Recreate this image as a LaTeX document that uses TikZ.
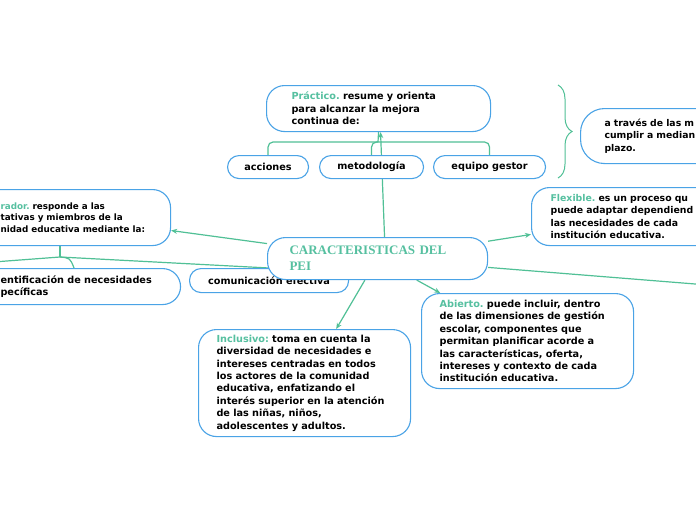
\documentclass[tikz,border=0pt]{standalone}
\usepackage{fontspec}
\setmainfont{DejaVu Sans}
\newfontfamily\titlefont{Liberation Serif}
\usetikzlibrary{arrows.meta}
\usetikzlibrary{backgrounds}
\usetikzlibrary{decorations.pathreplacing}

\definecolor{boxblue}{RGB}{74,163,230}
\definecolor{linkteal}{RGB}{80,192,150}
\definecolor{keyteal}{RGB}{86,192,160}
\newcommand{\kw}[1]{\textcolor{keyteal}{#1}}

\begin{document}
\frenchspacing
\begin{tikzpicture}[x=1pt,y=-1pt]
\useasboundingbox (0,0) rectangle (696,520);
\begin{scope}[every node/.style={draw=boxblue,line width=1.1pt,fill=white,rounded corners=18pt,
                                 anchor=north west,align=left,inner ysep=0pt,
                                 font=\fontsize{9.7}{12.4}\selectfont\bfseries},
              sub_box/.style={rounded corners=11.5pt,align=center,inner xsep=0pt,minimum height=23pt}]
    \node (com) at (189,268) [sub_box,minimum width=159pt,minimum height=24pt] {comunicación efectiva};
    \node (pei) at (267,237) [minimum width=220pt,minimum height=42pt,text width=176pt,inner xsep=22pt,
          text=keyteal,font=\titlefont\fontsize{13}{16}\selectfont\bfseries] {CARACTERISTICAS DEL\\PEI};
    \node (prac) at (266,85) [minimum width=224pt,minimum height=46pt,text width=174pt,inner xsep=25pt]
          {\kw{Práctico.} resume y orienta\\para alcanzar la mejora\\continua de:};
    \node (acc) at (227,155) [sub_box,minimum width=81pt] {acciones};
    \node (met) at (319,155) [sub_box,minimum width=104pt] {metodología};
    \node (equ) at (433,155) [sub_box,minimum width=112pt] {equipo gestor};
    \node (trav) at (580,108) [minimum width=210pt,minimum height=55pt,text width=162pt,inner xsep=24pt,rounded corners=24pt,
          font=\fontsize{9.3}{12.6}\selectfont\bfseries]
          {a través de las m\\cumplir a median\\plazo.};
    \node (integ) at (-21,189) [minimum width=191pt,minimum height=56pt,text width=149pt,inner xsep=21pt,
          font=\fontsize{8.8}{11.5}\selectfont\bfseries]
          {\kw{rador.} responde a las\\tativas y miembros de la\\nidad educativa mediante la:};
    \node (ident) at (-21,268) [minimum width=201pt,minimum height=36pt,text width=159pt,inner xsep=21pt]
          {entificación de necesidades\\pecíficas};
    \node (flex) at (531,187) [minimum width=228pt,minimum height=58pt,text width=190pt,inner xsep=18pt,
          font=\fontsize{9.35}{12.4}\selectfont\bfseries]
          {\kw{Flexible.} es un proceso qu\\puede adaptar dependiend\\las necesidades de cada\\institución educativa.};
    \node (abie) at (421,293) [minimum width=212pt,minimum height=95pt,text width=176pt,inner xsep=18pt]
          {\kw{Abierto.} puede incluir, dentro\\de las dimensiones de gestión\\escolar, componentes que\\permitan planificar acorde a\\las características, oferta,\\intereses y contexto de cada\\institución educativa.};
    \node (incl) at (198,329) [minimum width=212pt,minimum height=107pt,text width=176pt,inner xsep=18pt]
          {\kw{Inclusivo:} toma en cuenta la\\diversidad de necesidades e\\intereses centradas en todos\\los actores de la comunidad\\educativa, enfatizando el\\interés superior en la atención\\de las niñas, niños,\\adolescentes y adultos.};
\end{scope}
\coordinate (prac_split) at (378,142);
\coordinate (integ_split) at (60,257);
\coordinate (left_end) at (-20,263);
\coordinate (right_end) at (820,294);
\coordinate (brace_top) at (558,85);
\coordinate (brace_bot) at (558,178);
\begin{scope}[on background layer,
              >={Stealth[length=6pt,width=5pt]},
              teal_edge/.style={draw=linkteal,line width=1.2pt},
              tree_edge/.style={draw=linkteal,line width=1.2pt,rounded corners=5pt}]
    \fill [white] (0,0) rectangle (696,520);
    \path [->] ([xshift=7pt]pei.north) edge [teal_edge] ([xshift=2pt]prac.south);
    \path [->] (pei) edge [teal_edge] (integ);
    \path [->] (pei) edge [teal_edge] (flex);
    \path [->] (pei) edge [teal_edge] (abie);
    \path [->] (pei) edge [teal_edge] (incl);
    \path (pei) edge [teal_edge] (right_end);
    \draw [tree_edge] (prac.south) -- (prac_split);
    \draw [tree_edge] (acc.north) |- (prac_split) -| (equ.north);
    \draw [tree_edge] (met.north) |- (prac_split);
    \draw [tree_edge] (integ.south -| integ_split) -- (integ_split);
    \draw [teal_edge] (integ_split) .. controls (70,258) .. ([xshift=-6pt]ident.north);
    \draw [teal_edge] (integ_split) -- (com.north);
    \draw [teal_edge] (integ_split) -- (left_end);
    \draw [teal_edge,line width=1pt,decorate,decoration={brace,amplitude=14pt}] (brace_top) -- (brace_bot);
\end{scope}
\end{tikzpicture}
\end{document}
